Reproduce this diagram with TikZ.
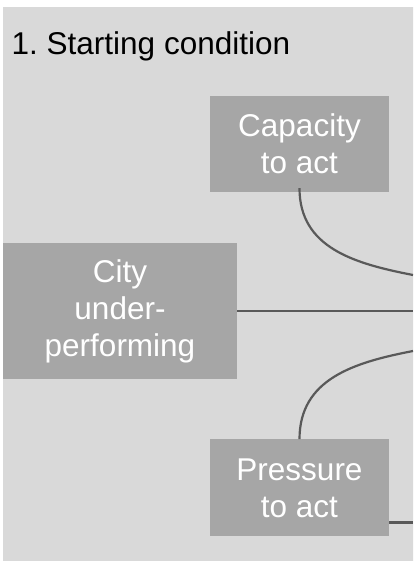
\documentclass[tikz,border=0pt]{standalone}
\usepackage{fontspec}
\setmainfont{Liberation Sans}
\usetikzlibrary{calc,positioning}
\definecolor{panelgray}{HTML}{D9D9D9}
\definecolor{boxgray}{HTML}{A6A6A6}
\definecolor{linkgray}{HTML}{595959}
\frenchspacing

\begin{document}
\begin{tikzpicture}
		[x=1pt, y=1pt,
		font=\fontsize{31.5}{37}\selectfont,
		box/.style={fill=boxgray, text=white, align=center, inner sep=0pt},
		link/.style={draw=linkgray, line width=2.2pt}]
		\useasboundingbox (0,0) rectangle (413,563);
		\clip (0,0) rectangle (413,563);
		\fill[panelgray] (3,2) rectangle (420,556);
		\node[anchor=base west, inner sep=0pt] (title) at (11.5,508.7) {1. Starting condition};
		\node[box, minimum width=234pt, minimum height=136pt] (city) at (120,252) {City\\under-\\performing};
		\node[box, minimum width=179pt, minimum height=96pt] (cap) at (299.5,419) {Capacity\\to act};
		\node[box, minimum width=179pt, minimum height=97pt, below=247pt of cap] (press) {Pressure\\to act};
		\coordinate (edge) at (413,0);
		\coordinate (capend) at (413,288);
		\coordinate (pressend) at (413,212);
		
		\draw[link] ([yshift=4pt]cap.south) to[out=-90, in=169, looseness=1.07] (capend);
		\draw[link] (city.east) -- (city.east -| edge);
		\draw[link] (press.north) to[out=90, in=191, looseness=1.07] (pressend);
		\draw[link] ($(press.south east)+(0,14)$) -- ($(press.south east -| edge)+(0,14)$);
\end{tikzpicture}
\end{document}
